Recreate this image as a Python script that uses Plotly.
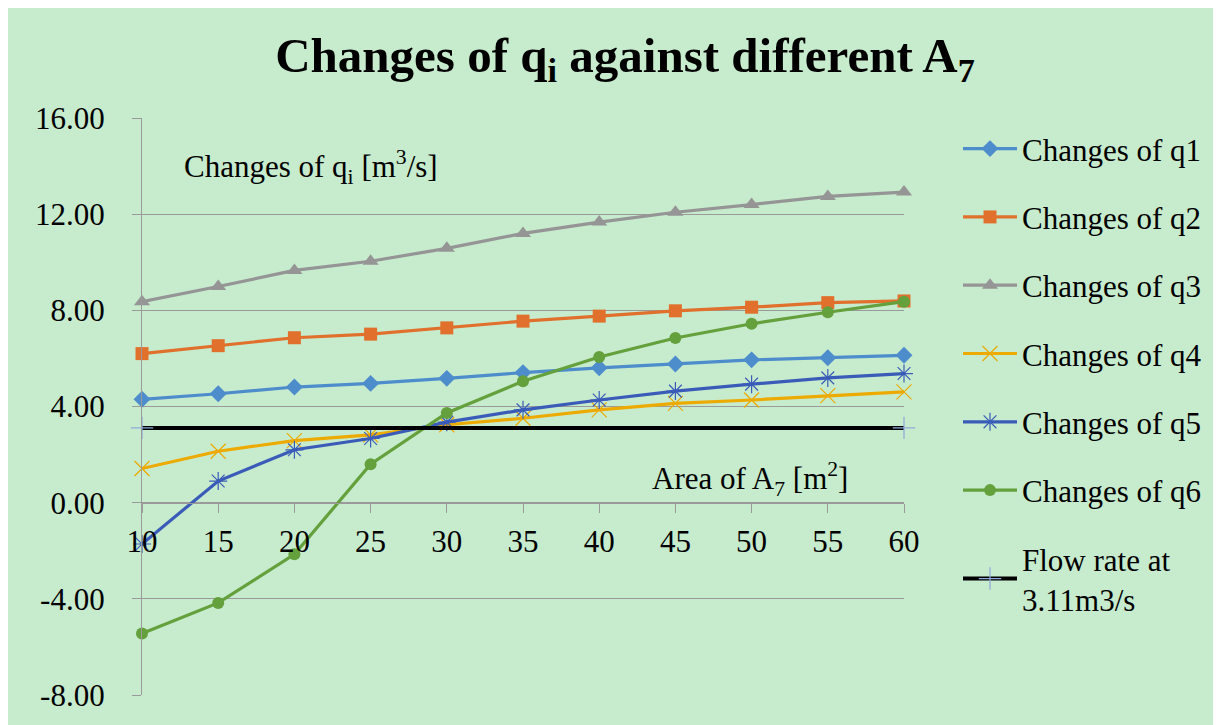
import plotly.graph_objects as go

area = [10, 15, 20, 25, 30, 35, 40, 45, 50, 55, 60]
q1 = [4.30, 4.53, 4.81, 4.96, 5.17, 5.41, 5.61, 5.77, 5.94, 6.03, 6.13]
q2 = [6.20, 6.53, 6.86, 7.01, 7.27, 7.55, 7.76, 7.98, 8.13, 8.32, 8.39]
q3 = [8.36, 8.99, 9.66, 10.04, 10.58, 11.20, 11.67, 12.08, 12.40, 12.74, 12.92]
q4 = [1.42, 2.14, 2.58, 2.82, 3.24, 3.51, 3.86, 4.13, 4.27, 4.45, 4.61]
q5 = [-1.72, 0.90, 2.20, 2.67, 3.35, 3.86, 4.27, 4.64, 4.93, 5.19, 5.37]
q6 = [-5.44, -4.17, -2.15, 1.60, 3.73, 5.05, 6.06, 6.85, 7.44, 7.92, 8.36]
flow_x = [10, 60]
flow_y = [3.11, 3.11]

y_tickvals = [-8, -4, 0, 4, 8, 12, 16]
y_ticktext = ["-8.00", "-4.00", "0.00", "4.00", "8.00", "12.00", "16.00"]
x_tickvals = area

names = ["Changes of q1", "Changes of q2", "Changes of q3",
         "Changes of q4", "Changes of q5", "Changes of q6"]

FONT = "Liberation Serif, Times New Roman, serif"
BG = "#C7EBCD"

series = [
    (q1, "#4E8DCC", dict(symbol="diamond", size=13, color="#4E8DCC")),
    (q2, "#E0702C", dict(symbol="square", size=13, color="#E0702C")),
    (q3, "#959595", dict(symbol="triangle-up", size=14, color="#959595")),
    (q4, "#EDAA00", dict(symbol="x-thin-open", size=15, color="#EDAA00", line=dict(width=1.2, color="#EDAA00"))),
    (q5, "#3A5CB8", dict(symbol="asterisk-open", size=15, color="#3A5CB8", line=dict(width=1.2, color="#4A6CC8"))),
    (q6, "#64A03C", dict(symbol="circle", size=12, color="#64A03C")),
]

fig = go.Figure()
for i, (ys, col, mk) in enumerate(series):
    fig.add_trace(go.Scatter(
        x=area, y=ys, mode="lines+markers", name=names[i],
        line=dict(color=col, width=3.2), marker=mk,
        legendgroup=f"g{i}", cliponaxis=False,
    ))

fig.add_trace(go.Scatter(
    x=flow_x, y=flow_y, mode="lines+markers", name="Flow rate at<br>3.11m3/s",
    line=dict(color="black", width=4),
    marker=dict(symbol="cross-thin-open", size=16, color="#8EA9DB", line=dict(width=1.2, color="#8EA9DB")),
    legendgroup="g6", cliponaxis=False,
))

# figure is placed at an 8px page offset; all coordinates below are figure pixels
W, H = 1213, 717
L, R, T, B = 134, 896, 110, 691
pw, ph = R - L, B - T

def px(x):
    return (x - L) / pw

def py(y):
    return (B - y) / ph

fig.update_layout(
    width=W, height=H,
    margin=dict(l=L, r=W - R, t=T, b=H - B, pad=0),
    paper_bgcolor=BG, plot_bgcolor="rgba(0,0,0,0)",
    font=dict(family=FONT, color="black", size=31),
    title=dict(
        text="<b>Changes of q<sub>i</sub> against different A<sub>7</sub></b>",
        x=617 / W, xanchor="center", y=1 - 47 / H, yanchor="middle",
        font=dict(family=FONT, size=49, color="black"),
    ),
    xaxis=dict(
        range=[10, 60], tickvals=x_tickvals, showgrid=False, zeroline=False,
        showline=True, linecolor="#9A9A9A", linewidth=1.3,
        ticks="outside", ticklen=9, tickcolor="#9A9A9A", tickwidth=1.3,
        anchor="free", position=1 / 3, ticklabelstandoff=2,
        tickfont=dict(family=FONT, size=31, color="black"),
    ),
    yaxis=dict(
        range=[-8, 16], tickvals=y_tickvals, ticktext=y_ticktext,
        showgrid=True, gridcolor="#9A9A9A", gridwidth=1.3, zeroline=False,
        showline=True, linecolor="#9A9A9A", linewidth=1.3,
        ticks="outside", ticklen=9, tickcolor="#9A9A9A", tickwidth=1.3,
        ticklabelstandoff=21,
        tickfont=dict(family=FONT, size=31, color="black"),
    ),
    legend=dict(
        x=px(950), xanchor="left", y=py(114), yanchor="top",
        font=dict(family=FONT, size=31, color="black"),
        bgcolor="rgba(0,0,0,0)", itemwidth=54, tracegroupgap=25,
        traceorder="grouped",
    ),
    showlegend=True,
    annotations=[
        dict(text="Changes of q<sub>i</sub> [m<sup>3</sup>/s]", xref="paper", yref="paper",
             x=px(174), y=py(159), xanchor="left", yanchor="middle", showarrow=False,
             font=dict(family=FONT, size=31, color="black")),
        dict(text="Area of A<sub>7</sub> [m<sup>2</sup>]", xref="paper", yref="paper",
             x=px(642), y=py(473), xanchor="left", yanchor="middle", showarrow=False,
             font=dict(family=FONT, size=31, color="black")),
    ],
)

fig.write_html("out.html")
